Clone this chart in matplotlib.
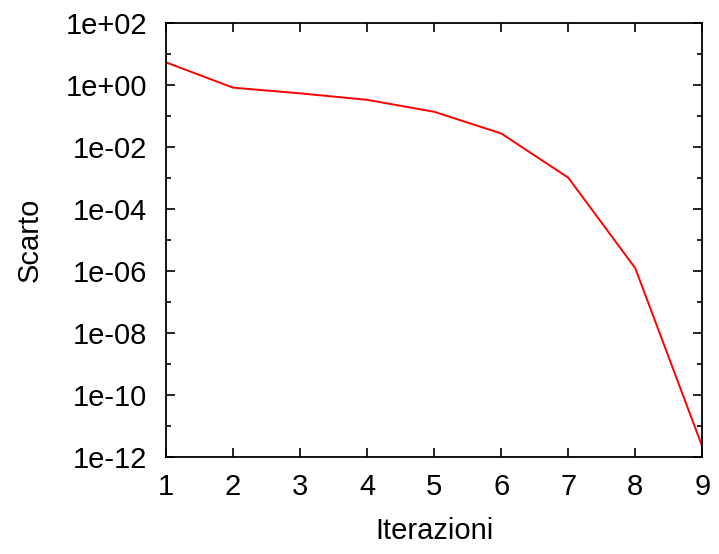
import matplotlib
matplotlib.use("Agg")
import matplotlib.pyplot as plt
from matplotlib.ticker import FixedLocator, NullFormatter

iterations = [1, 2, 3, 4, 5, 6, 7, 8, 9]
residual = [5.5, 0.84, 0.55, 0.34, 0.14, 0.028, 1.05e-3, 1.26e-6, 2.2e-12]
ytick_values = [1e-12, 1e-10, 1e-8, 1e-6, 1e-4, 1e-2, 1e0, 1e2]
ytick_labels = ["1e-12", "1e-10", "1e-08", "1e-06", "1e-04", "1e-02", "1e+00", "1e+02"]
yminor_values = [1e-11, 1e-9, 1e-7, 1e-5, 1e-3, 1e-1, 1e1]

plt.rcParams['font.family'] = ['Liberation Sans', 'DejaVu Sans']

fig = plt.figure(figsize=(7.19, 5.54), dpi=100)
ax = fig.add_axes([166/719, 1 - 457.3/554, (702.3-166)/719, (457.3-23.3)/554])

ax.plot(iterations, residual, color='#ff0000', lw=1.4)
ax.set_yscale('log')
ax.set_xlim(1, 9)
ax.set_ylim(1e-12, 1e2)
ax.xaxis.set_major_locator(FixedLocator(iterations))
ax.yaxis.set_major_locator(FixedLocator(ytick_values))
ax.yaxis.set_minor_locator(FixedLocator(yminor_values))
ax.yaxis.set_minor_formatter(NullFormatter())
ax.set_yticklabels(ytick_labels)
ax.tick_params(axis='both', which='major', direction='in', length=6.5, width=1.2,
               top=True, right=True, labelsize=21)
ax.tick_params(axis='both', which='minor', direction='in', length=3.5, width=1.2,
               top=True, right=True)
ax.tick_params(axis='y', which='major', pad=13.5)
ax.tick_params(axis='x', which='major', pad=11)
for s in ax.spines.values():
    s.set_linewidth(1.3)

ax.set_xlabel('Iterazioni', fontsize=21, labelpad=12)
ax.set_ylabel('Scarto', fontsize=21, labelpad=16)

fig.savefig('out.png', dpi=100)
